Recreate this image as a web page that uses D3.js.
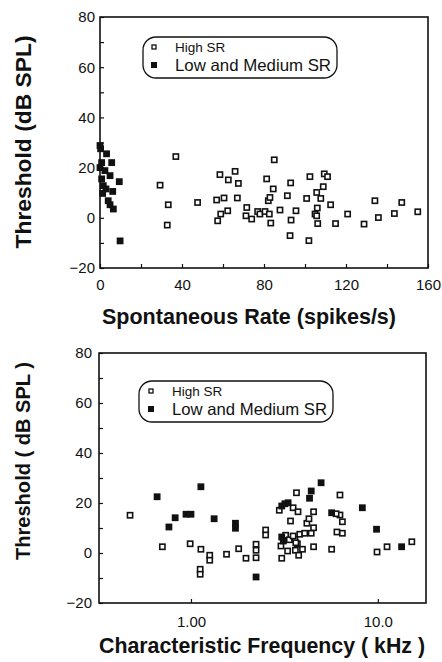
<!DOCTYPE html>
<html>
<head>
<meta charset="utf-8">
<script src="https://cdn.jsdelivr.net/npm/d3@7"></script>
<style>
  body { margin: 0; background: #fff; }
  text { font-family: "Liberation Sans", Arial, Helvetica, sans-serif; fill: #111; }
</style>
</head>
<body>
<svg id="chart" width="442" height="662"></svg>
<script>
// --- data: top panel, [spontaneous rate (spikes/s), threshold (dB SPL)]
const rateHigh = [
  [37, 24.4], [29.3, 13], [33.3, 5.2], [32.8, -2.9], [47.6, 6.1], [56.9, 7.1],
  [58.5, 17.2], [60.5, 7.9], [62.6, 15.1], [65.9, 18.5], [67.5, 13.7], [67, 7.9],
  [57.4, -1.2], [58.9, 1.5], [62.3, 2.8], [71.6, 4.1], [71.2, 0.8], [74, -0.5],
  [76.9, 2.5], [78, 1.5], [80.5, 2.5], [81.3, 15.5], [82.1, 6.8], [82.9, 8.1],
  [82.6, 1.5], [83.3, -2.1], [84.5, 11.5], [85, 23.1], [87.8, 3.1], [91.4, 8.8],
  [93, 13.9], [93.2, -0.9], [92.7, -7.1], [95.6, 2.8], [100.8, 7.7], [102.4, 16.4],
  [101.9, -9.1], [104.9, 1.5], [105.7, 10.1], [106, 3.9], [105.7, 0.8], [106.2, -2.3],
  [107.7, 7.7], [108.9, 12.4], [109.4, 17.5], [111, 16.4], [112.5, 5.2], [114.9, -2.3],
  [120.8, 1.5], [128.8, -2.5], [134.1, 6.8], [135.8, 0.1], [143.6, 1.7], [147.2, 6.1],
  [155, 2.4]
];
const rateLow = [
  [0, 28.8], [0.3, 27.5], [3.2, 25.5], [5.7, 22], [0.8, 22], [0, 20], [2.4, 18.8],
  [4.9, 16.8], [0.8, 15.5], [9.4, 14.4], [1.6, 12.8], [2.9, 11.5], [6.2, 10.5],
  [1.3, 9.7], [4, 6.8], [4.9, 5.2], [6.5, 3.5], [9.8, -9.2]
];

// --- data: bottom panel, [characteristic frequency (kHz), threshold (dB SPL)]
const cfHigh = [
  [0.472, 15.1], [0.703, 2.5], [0.99, 3.7], [1.13, 1.5], [1.12, -6.5], [1.12, -8.5],
  [1.26, -0.9], [1.26, -2.9], [1.55, -0.5], [1.8, 1.7], [1.97, -2.1], [2.23, 3.5],
  [2.23, 1.1], [2.23, -1.9], [2.51, 9.2], [2.51, 7.2], [2.97, 17.1], [3.03, 2.8],
  [3.06, -2.1], [3.21, 7.1], [3.29, 0.8], [3.41, 12.8], [3.52, 18.1], [3.6, 5.5],
  [3.62, 1.1], [3.67, 24.1], [3.74, 16.5], [3.71, 3.7], [3.77, -0.9], [3.82, 7.5],
  [3.95, 1.5], [4.06, 7.9], [4.17, 11.9], [4.28, 13.7], [4.4, 7.9], [4.53, 16.5],
  [4.53, 10.1], [4.53, 2.5], [5.66, 1.5], [6.04, 8.4], [6.27, 15.2], [6.27, 23.2],
  [6.46, 12.5], [6.46, 7.9], [5.98, 15.7], [9.9, 0.4], [11.2, 2.5], [15.2, 4.5],
  [3.36, 5.3], [3.64, 4.1], [3.52, 6.8]
];
const cfLow = [
  [0.659, 22.5], [0.762, 10.4], [0.823, 14.1], [0.941, 15.5], [1.0, 15.5], [1.13, 26.5],
  [1.33, 13.7], [1.73, 11.9], [1.73, 9.9], [2.23, -9.6], [3.06, 18.8], [3.18, 19.7],
  [3.31, 20.1], [3.06, 6.4], [3.12, 4.8], [4.31, 21.9], [4.4, 24.8], [4.97, 28.1],
  [5.66, 16.1], [8.26, 18.1], [9.84, 9.5], [13.4, 2.5]
];

const thrTicks = [-20, 0, 20, 40, 60, 80];
const rateTicks = [0, 40, 80, 120, 160];
const cfTicks = [1, 10];
const cfTickLabels = ["1.00", "10.0"];
const legendLabels = ["High SR", "Low and Medium SR"];

const svg = d3.select("#chart");

function panel(o) {
  const g = svg.append("g");
  const x = o.x, y = o.y;
  const [x0, x1] = x.range(), [y0, y1] = y.range();

  // minor ticks pointing inward
  g.append("g").attr("transform", `translate(${x0},0)`)
    .call(d3.axisLeft(y).tickValues(d3.range(-20, 81, 10)).tickSize(-4).tickFormat(""))
    .call(s => s.select(".domain").remove())
    .selectAll("line").attr("stroke", "#111").attr("stroke-width", 1.2);
  g.append("g").attr("transform", `translate(0,${y0})`)
    .call(d3.axisBottom(x).tickValues(o.minorX).tickSize(-4).tickFormat(""))
    .call(s => s.select(".domain").remove())
    .selectAll("line").attr("stroke", "#111").attr("stroke-width", 1.2);

  // tick labels
  g.append("g").attr("transform", `translate(${x0},0)`)
    .call(d3.axisLeft(y).tickValues(thrTicks).tickSize(0).tickPadding(o.yPad))
    .call(s => s.select(".domain").remove())
    .selectAll("text").style("font-size", "15px").attr("fill", "#111");
  g.append("g").attr("transform", `translate(0,${y0})`)
    .call(d3.axisBottom(x).tickValues(o.xTicks).tickSize(0).tickPadding(o.xPad).tickFormat(o.xFmt))
    .call(s => s.select(".domain").remove())
    .selectAll("text").style("font-size", "15px").attr("fill", "#111");

  // frame
  g.append("rect").attr("x", x0).attr("y", y1).attr("width", x1 - x0).attr("height", y0 - y1)
    .attr("fill", "none").attr("stroke", "#111").attr("stroke-width", 1.6);

  // open squares
  g.append("g").selectAll("rect").data(o.high).join("rect")
    .attr("x", d => x(d[0]) - 2.6).attr("y", d => y(d[1]) - 2.6)
    .attr("width", 5.2).attr("height", 5.2)
    .attr("fill", "#fff").attr("stroke", "#111").attr("stroke-width", 1.6);
  // filled squares
  g.append("g").selectAll("rect").data(o.low).join("rect")
    .attr("x", d => x(d[0]) - 3.4).attr("y", d => y(d[1]) - 3.4)
    .attr("width", 6.8).attr("height", 6.8).attr("fill", "#111");

  // axis titles
  g.append("text").attr("transform", `translate(${o.yt[0]},${o.yt[1]}) rotate(-90)`)
    .attr("text-anchor", "middle").attr("dominant-baseline", "central")
    .attr("font-weight", "bold").style("font-size", o.yt[2] + "px")
    .attr("textLength", o.yt[3]).attr("lengthAdjust", "spacingAndGlyphs")
    .text(o.yTitle);
  g.append("text").attr("x", o.xt[0]).attr("y", o.xt[1])
    .attr("text-anchor", "middle").attr("font-weight", "bold").style("font-size", "21.5px")
    .attr("textLength", o.xt[2]).attr("lengthAdjust", "spacingAndGlyphs")
    .text(o.xTitle);

  // legend
  const L = o.leg;
  g.append("rect").attr("x", L.x).attr("y", L.y).attr("width", L.w).attr("height", L.h)
    .attr("rx", 13).attr("fill", "none").attr("stroke", "#111").attr("stroke-width", 1.3);
  g.append("rect").attr("x", L.mx - 2).attr("y", L.y + 10 - 2).attr("width", 4).attr("height", 4)
    .attr("fill", "#fff").attr("stroke", "#111").attr("stroke-width", 1.3);
  g.append("rect").attr("x", L.mx - 3).attr("y", L.y + 28 - 3).attr("width", 6).attr("height", 6)
    .attr("fill", "#111");
  g.append("text").attr("x", L.tx).attr("y", L.y + 15).style("font-size", "13.5px").text(legendLabels[0]);
  g.append("text").attr("x", L.tx).attr("y", L.y + 34).style("font-size", "16.5px")
    .attr("textLength", L.w - (L.tx - L.x) - 6).attr("lengthAdjust", "spacingAndGlyphs")
    .text(legendLabels[1]);
}

panel({
  x: d3.scaleLinear([0, 160], [100, 428]),
  y: d3.scaleLinear([-20, 80], [268, 17]),
  high: rateHigh, low: rateLow,
  minorX: d3.range(0, 161, 20), xTicks: rateTicks, xFmt: d3.format("d"),
  yPad: 5, xPad: 11,
  yTitle: "Threshold (dB SPL)", yt: [23, 142, 22, 213],
  xTitle: "Spontaneous Rate (spikes/s)", xt: [249, 324, 294],
  leg: { x: 143, y: 37, w: 194, h: 41, mx: 154, tx: 175 }
});

panel({
  x: d3.scaleLog([0.322, 18.1], [99, 426]),
  y: d3.scaleLinear([-20, 80], [603, 353]),
  high: cfHigh, low: cfLow,
  minorX: cfTicks, xTicks: cfTicks, xFmt: (d, i) => cfTickLabels[i],
  yPad: 7, xPad: 13,
  yTitle: "Threshold ( dB SPL )", yt: [23, 461, 20, 198],
  xTitle: "Characteristic Frequency ( kHz )", xt: [262, 653, 326],
  leg: { x: 139, y: 381, w: 194, h: 41, mx: 151, tx: 172 }
});
</script>
</body>
</html>
